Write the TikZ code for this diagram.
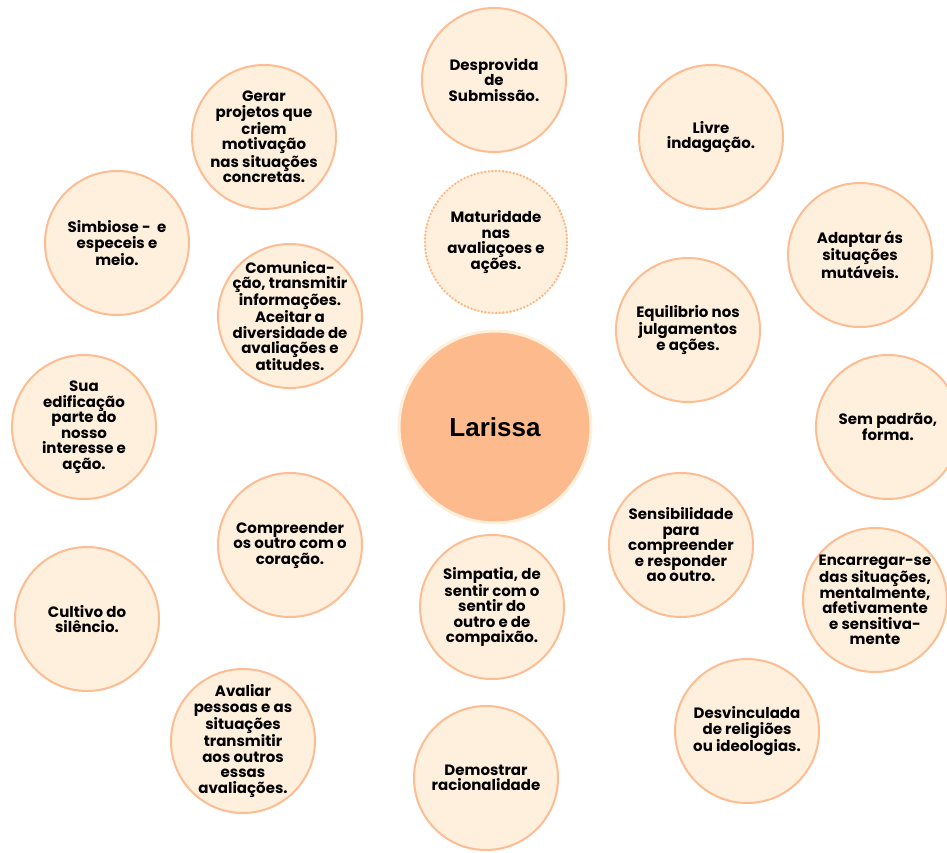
\documentclass[tikz,border=0pt]{standalone}
\usepackage{fontspec}
\setmainfont{Poppins}
\newfontfamily\titlefont{Liberation Sans}
\usepackage{xcolor}
\definecolor{cream}{HTML}{FFF0DD}
\definecolor{peach}{HTML}{FDBC92}
\definecolor{salmon}{HTML}{FDBB8D}

\tikzset{
  bubble/.style={circle, draw=peach, fill=cream, line width=2pt, minimum size=144pt, inner sep=0pt},
  txt/.style={align=center, inner sep=0pt, font=\fontsize{15}{15.5}\selectfont\bfseries, text=black},
}

\begin{document}
\begin{tikzpicture}[x=1pt,y=-1pt]
            \useasboundingbox (0,0) rectangle (947,853);
            % centre
            \node[circle, draw=cream, fill=salmon, line width=3pt, minimum size=192pt, inner sep=0pt] (larissa) at (495,427) {};
            \node[font=\titlefont\fontsize{26}{28}\selectfont\bfseries] at (larissa) {Larissa};
            % top column
            \node[bubble] (desprovida) at (494,80) {};
            \node[txt] at (desprovida) {Desprovida\\de\\Submissão.};
            \node[bubble, draw=none] (maturidade) at (496,242) {};
            \draw[peach!90!orange, line width=2.6pt, line cap=round, dash pattern=on 0pt off 3.6pt] (maturidade) circle (71pt);
            \node[txt] at (maturidade) {Maturidade\\nas\\avaliaçoes e\\ações.};
            % left side
            \node[bubble] (gerar) at (264,137) {};
            \node[txt] at (gerar) {Gerar\\projetos que\\criem\\motivação\\nas situações\\concretas.};
            \node[bubble] (simbiose) at (117,243) {};
            \node[txt] at (simbiose) {Simbiose -~ e\\especeis e\\meio.};
            \node[bubble] (comunicacao) at (290,316) {};
            \node[txt] at (comunicacao) {Comunica-\\ção, transmitir\\informações.\\Aceitar a\\diversidade de\\avaliações e\\atitudes.};
            \node[bubble] (edificacao) at (84,427) {};
            \node[txt] at (edificacao) {Sua\\edificação\\parte do\\nosso\\interesse e\\ação.};
            \node[bubble] (compreender) at (290,545) {};
            \node[txt] at (compreender) {Compreender\\os outro com o\\coração.};
            \node[bubble] (cultivo) at (87,619) {};
            \node[txt] at (cultivo) {Cultivo do\\silêncio.};
            \node[bubble] (avaliar) at (243,741) {};
            \node[txt] at (avaliar) {Avaliar\\pessoas e as\\situações\\transmitir\\aos outros\\essas\\avaliações.};
            % bottom column
            \node[bubble] (simpatia) at (492,607) {};
            \node[txt] at (simpatia) {Simpatia, de\\sentir com o\\sentir do\\outro e de\\compaixão.};
            \node[bubble] (demostrar) at (486,778) {};
            \node[txt] at (demostrar) {Demostrar\\racionalidade};
            % right side
            \node[bubble] (livre) at (711,137) {};
            \node[txt] at (livre) {Livre\\indagação.};
            \node[bubble] (adaptar) at (860,255) {};
            \node[txt] at (adaptar) {Adaptar ás\\situações\\mutáveis.};
            \node[bubble] (equilibrio) at (688,330) {};
            \node[txt] at (equilibrio) {Equilibrio nos\\julgamentos\\e ações.};
            \node[bubble] (padrao) at (888,427) {};
            \node[txt] at (padrao) {Sem padrão,\\forma.};
            \node[bubble] (sensibilidade) at (681,545) {};
            \node[txt] at (sensibilidade) {Sensibilidade\\para\\compreender\\e responder\\ao outro.};
            \node[bubble] (encarregar) at (875,600) {};
            \node[txt] at (encarregar) {Encarregar-se\\das situações,\\mentalmente,\\afetivamente\\e sensitiva-\\mente};
            \node[bubble] (desvinculada) at (747,731) {};
            \node[txt] at (desvinculada) {Desvinculada\\de religiões\\ou ideologias.};
        \end{tikzpicture}
\end{document}
